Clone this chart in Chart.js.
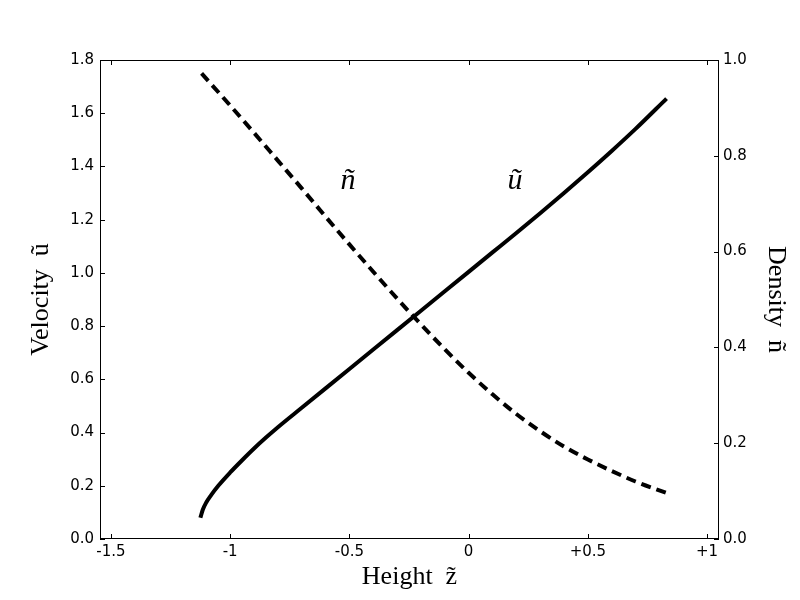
<!DOCTYPE html>
<html>
<head>
<meta charset="utf-8">
<script src="https://cdn.jsdelivr.net/npm/chart.js@4.4.1/dist/chart.umd.min.js"></script>
<style>
  html, body { margin: 0; padding: 0; background: #fff; }
  #wrap { width: 800px; height: 600px; }
</style>
</head>
<body>
<div id="wrap"><canvas id="canvas" width="800" height="600"></canvas></div>
<script>
// velocity u(z), solid line
const uHeight = [-1.125, -1.115, -1.1, -1.08, -1.05, -1.0, -0.95, -0.9, -0.85, -0.8, -0.7, -0.6, -0.5,
                 -0.4, -0.3, -0.2, -0.1, 0.0, 0.1, 0.2, 0.3, 0.4, 0.5, 0.6, 0.7, 0.83];
const uValues = [0.08, 0.11, 0.138, 0.165, 0.2, 0.25, 0.296, 0.34, 0.381, 0.42, 0.493, 0.566, 0.639,
                 0.712, 0.785, 0.858, 0.931, 1.004, 1.077, 1.15, 1.224, 1.3, 1.378, 1.458, 1.541, 1.655];

// density n(z), dashed line
const nHeight = [-1.12, -1.0, -0.9, -0.8, -0.7, -0.6, -0.5, -0.4, -0.3, -0.2, -0.1,
                 0.0, 0.1, 0.2, 0.3, 0.4, 0.5, 0.6, 0.7, 0.83];
const nValues = [0.972, 0.905, 0.848, 0.79, 0.732, 0.673, 0.615, 0.558, 0.502, 0.448, 0.396,
                 0.347, 0.302, 0.261, 0.225, 0.193, 0.166, 0.142, 0.12, 0.096];

const xTicks = [-1.5, -1, -0.5, 0, 0.5, 1];
const xTickLabels = ['-1.5', '-1', '-0.5', '0', '+0.5', '+1'];
const yTicks = [0, 0.2, 0.4, 0.6, 0.8, 1.0, 1.2, 1.4, 1.6, 1.8];
const y2Ticks = [0, 0.2, 0.4, 0.6, 0.8, 1.0];

// curve labels, placed in data coords (left axis)
const labelText = ['\u00f1', '\u0169'];
const labelX = [-0.506, 0.194];
const labelY = [1.315, 1.315];

function pts(xs, ys) {
  return xs.map((x, i) => ({ x: x, y: ys[i] }));
}

function fixTicks(list) {
  return function (scale) {
    scale.ticks = list.map(v => ({ value: v }));
  };
}

// frame, inward ticks and curve labels
const framePlugin = {
  id: 'frame',
  afterDraw(chart) {
    const ctx = chart.ctx;
    const a = chart.chartArea;
    const sx = chart.scales.x, sy = chart.scales.y, sy2 = chart.scales.y2;
    ctx.save();
    ctx.strokeStyle = '#000';
    ctx.lineWidth = 1;
    ctx.strokeRect(a.left + 0.5, a.top + 0.5, a.right - a.left - 1, a.bottom - a.top - 1);
    ctx.beginPath();
    xTicks.forEach(v => {
      const px = Math.round(sx.getPixelForValue(v)) + 0.5;
      ctx.moveTo(px, a.bottom); ctx.lineTo(px, a.bottom - 5);
      ctx.moveTo(px, a.top); ctx.lineTo(px, a.top + 5);
    });
    yTicks.forEach(v => {
      const py = Math.round(sy.getPixelForValue(v)) + 0.5;
      ctx.moveTo(a.left, py); ctx.lineTo(a.left + 5, py);
    });
    y2Ticks.forEach(v => {
      const py = Math.round(sy2.getPixelForValue(v)) + 0.5;
      ctx.moveTo(a.right, py); ctx.lineTo(a.right - 5, py);
    });
    ctx.stroke();

    ctx.fillStyle = '#000';
    ctx.font = 'italic 30px "Liberation Serif", "DejaVu Serif", serif';
    ctx.textAlign = 'center';
    ctx.textBaseline = 'alphabetic';
    labelText.forEach((t, i) => {
      ctx.fillText(t, sx.getPixelForValue(labelX[i]), sy.getPixelForValue(labelY[i]));
    });
    ctx.restore();
  }
};

const tickFont = { family: '"DejaVu Sans", sans-serif', size: 15 };
const titleFont = { family: '"Liberation Serif", "DejaVu Serif", serif', size: 26 };
const noGrid = { display: false, drawTicks: false, tickLength: 0 };

const ctx = document.getElementById('canvas').getContext('2d');
const myChart = new Chart(ctx, {
  type: 'scatter',
  data: {
    datasets: [
      {
        label: 'u',
        data: pts(uHeight, uValues),
        showLine: true,
        borderColor: '#000',
        borderWidth: 4,
        pointRadius: 0,
        cubicInterpolationMode: 'monotone',
        yAxisID: 'y'
      },
      {
        label: 'n',
        data: pts(nHeight, nValues),
        showLine: true,
        borderColor: '#000',
        borderWidth: 4,
        borderDash: [10, 6],
        pointRadius: 0,
        cubicInterpolationMode: 'monotone',
        yAxisID: 'y2'
      }
    ]
  },
  options: {
    responsive: false,
    animation: false,
    devicePixelRatio: 1,
    layout: { padding: { top: 60, left: 0, right: 0, bottom: 0 } },
    plugins: { legend: { display: false }, tooltip: { enabled: false } },
    scales: {
      x: {
        type: 'linear',
        min: -1.546,
        max: 1.05,
        afterBuildTicks: fixTicks(xTicks),
        afterFit(scale) { scale.height = 61; },
        grid: noGrid,
        border: { display: false },
        ticks: {
          color: '#000',
          font: tickFont,
          padding: 4,
          maxRotation: 0,
          autoSkip: false,
          callback: (v) => xTickLabels[xTicks.indexOf(v)]
        },
        title: {
          display: true,
          text: 'Height  z\u0303',
          color: '#000',
          font: titleFont,
          padding: { top: 0, bottom: 7 }
        }
      },
      y: {
        type: 'linear',
        position: 'left',
        min: 0,
        max: 1.8,
        afterBuildTicks: fixTicks(yTicks),
        afterFit(scale) { scale.width = 100; },
        grid: noGrid,
        border: { display: false },
        ticks: {
          color: '#000',
          font: tickFont,
          padding: 6,
          autoSkip: false,
          callback: (v) => v.toFixed(1)
        },
        title: {
          display: true,
          text: 'Velocity  \u0169',
          color: '#000',
          font: titleFont,
          padding: { top: 26, bottom: 0 }
        }
      },
      y2: {
        type: 'linear',
        position: 'right',
        min: 0,
        max: 1.0,
        afterBuildTicks: fixTicks(y2Ticks),
        afterFit(scale) { scale.width = 81; },
        grid: noGrid,
        border: { display: false },
        ticks: {
          color: '#000',
          font: tickFont,
          padding: 4,
          autoSkip: false,
          callback: (v) => v.toFixed(1)
        },
        title: {
          display: true,
          text: 'Density  \u00f1',
          color: '#000',
          font: titleFont,
          padding: { top: 9, bottom: 0 }
        }
      }
    }
  },
  plugins: [framePlugin]
});
</script>
</body>
</html>
